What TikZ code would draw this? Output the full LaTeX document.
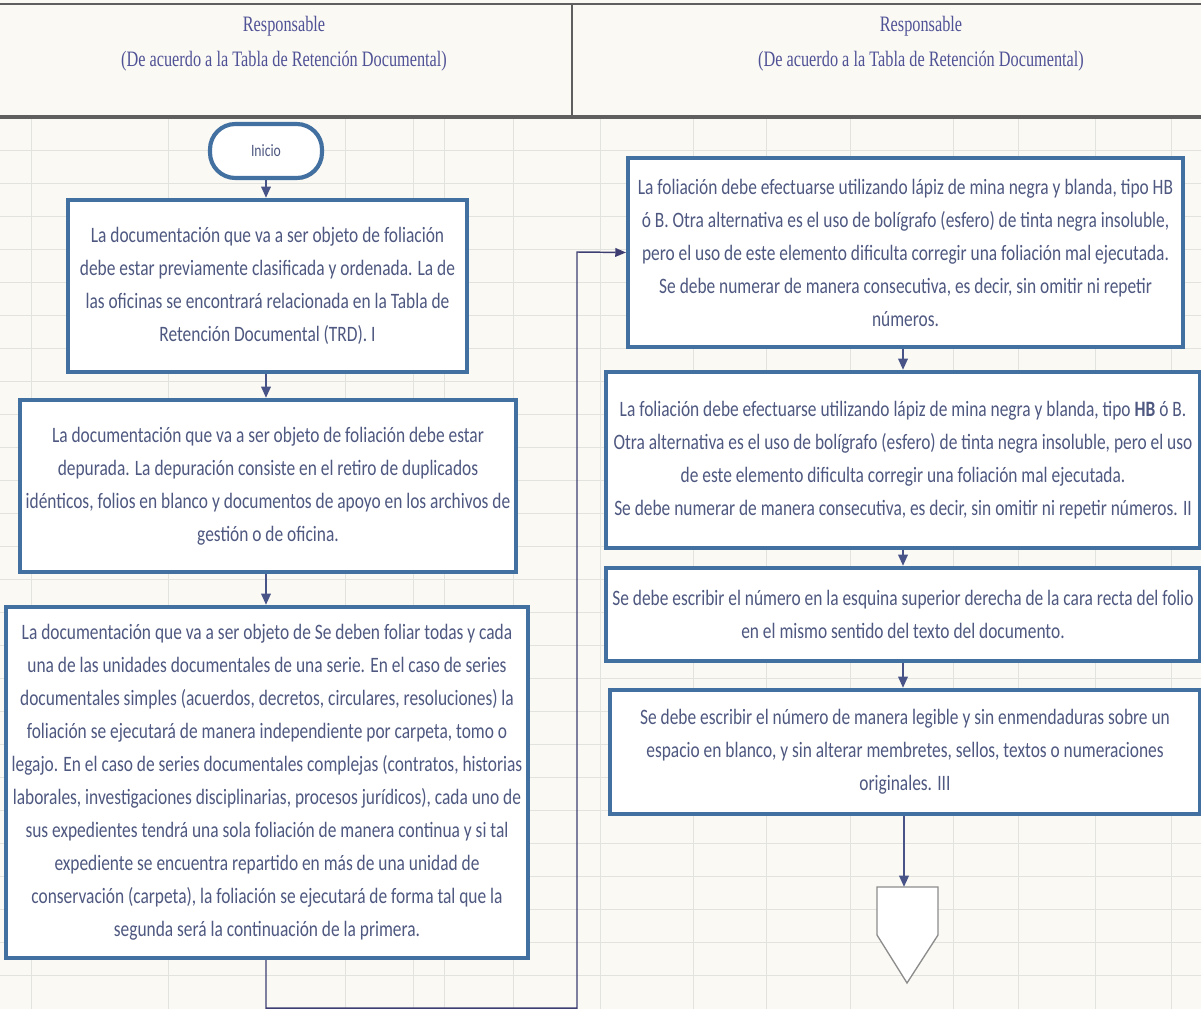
\documentclass[tikz,border=0pt]{standalone}
\usepackage{fontspec}
\setmainfont{Carlito}[FakeStretch=0.79]
\newfontfamily\hdrfont{Liberation Serif}[FakeStretch=0.74]
\usetikzlibrary{arrows.meta,shadows}
\definecolor{bgc}{RGB}{250,249,244}
\definecolor{gridc}{RGB}{226,226,222}
\definecolor{boxc}{RGB}{66,112,160}
\definecolor{txtc}{RGB}{78,88,128}
\definecolor{hdrc}{RGB}{80,82,150}
\definecolor{arrc}{RGB}{72,84,135}
\definecolor{loopc}{RGB}{62,62,115}
\definecolor{offc}{RGB}{140,140,140}
\definecolor{linec}{RGB}{95,95,95}
\begin{document}
\begin{tikzpicture}[x=0.75pt,y=-0.75pt,
  box/.style={draw=boxc, line width=3.1pt, fill=white, align=center, text=txtc,
    font=\fontsize{16.5}{24.75}\selectfont, inner sep=0pt,
    drop shadow={shadow xshift=0.8pt, shadow yshift=-1.4pt, fill=black!55, opacity=0.6}},
  term/.style={box, rounded corners=19pt, font=\fontsize{13}{14}\selectfont},
  hdr/.style={align=center, text=hdrc, font=\hdrfont\fontsize{16.5}{26}\selectfont, inner sep=0pt},
  flow/.style={draw=arrc, line width=1.8pt, -{Triangle[length=8.5pt,width=7pt]}},
  loopline/.style={draw=loopc, line width=1.1pt},
  gline/.style={draw=gridc, line width=0.5pt}]
% background
\fill[bgc] (0,0) rectangle (1201,1009);
\useasboundingbox (0,0) rectangle (1201,1009);
% faint grid
\foreach \gx in {31,168,345,413,444,513,600,693,766,850,953,1018,1095,1171}
  \draw[gline] (\gx,117) -- (\gx,1009);
\foreach \gy in {150,183,216,249,282,315,348,381,414,447,480,513,546,579,612,645,678,711,744,777,810,843,876,909,942,975}
  \draw[gline] (0,\gy) -- (1201,\gy);
% header
\draw[linec, line width=2.2pt] (0,4) -- (1201,4);
\draw[linec, line width=2.4pt] (0,117) -- (1201,117);
\draw[linec, line width=0.9pt] (572,4) -- (572,117);
\node[hdr] (h1) at (284,44) {Responsable\\(De acuerdo a la Tabla de Retención Documental)};
\node[hdr] (h2) at (921,44) {Responsable\\(De acuerdo a la Tabla de Retención Documental)};
% left column
\node[term, minimum width=84pt, minimum height=40.5pt] (ini) at (266,151) {Inicio};
\node[box, minimum width=299.25pt, minimum height=129pt] (b1) at (267.5,286)
 {La documentación que va a ser objeto de foliación\\
  debe estar previamente clasificada y ordenada. La de\\
  las oficinas se encontrará relacionada en la Tabla de\\
  Retención Documental (TRD). I};
\node[box, minimum width=372pt, minimum height=129pt] (b2) at (268,486)
 {La documentación que va a ser objeto de foliación debe estar\\
  depurada. La depuración consiste en el retiro de duplicados\\
  idénticos, folios en blanco y documentos de apoyo en los archivos de\\
  gestión o de oficina.};
\node[box, minimum width=391.5pt, minimum height=263.25pt] (b3) at (267,782.5)
 {La documentación que va a ser objeto de Se deben foliar todas y cada\\
  una de las unidades documentales de una serie. En el caso de series\\
  documentales simples (acuerdos, decretos, circulares, resoluciones) la\\
  foliación se ejecutará de manera independiente por carpeta, tomo o\\
  legajo. En el caso de series documentales complejas (contratos, historias\\
  laborales, investigaciones disciplinarias, procesos jurídicos), cada uno de\\
  sus expedientes tendrá una sola foliación de manera continua y si tal\\
  expediente se encuentra repartido en más de una unidad de\\
  conservación (carpeta), la foliación se ejecutará de forma tal que la\\
  segunda será la continuación de la primera.};
% right column
\node[box, minimum width=416.25pt, minimum height=141.75pt] (b4) at (905.5,252.5)
 {La foliación debe efectuarse utilizando lápiz de mina negra y blanda, tipo HB\\
  ó B. Otra alternativa es el uso de bolígrafo (esfero) de tinta negra insoluble,\\
  pero el uso de este elemento dificulta corregir una foliación mal ejecutada.\\
  Se debe numerar de manera consecutiva, es decir, sin omitir ni repetir\\
  números.};
\node[box, minimum width=445.5pt, minimum height=132pt] (b5) at (903,460)
 {La foliación debe efectuarse utilizando lápiz de mina negra y blanda, tipo \textbf{HB} ó B.\\
  Otra alternativa es el uso de bolígrafo (esfero) de tinta negra insoluble, pero el uso\\
  de este elemento dificulta corregir una foliación mal ejecutada.\\
  Se debe numerar de manera consecutiva, es decir, sin omitir ni repetir números. II};
\node[box, minimum width=445.5pt, minimum height=69.75pt] (b6) at (903,614.5)
 {Se debe escribir el número en la esquina superior derecha de la cara recta del folio\\
  en el mismo sentido del texto del documento.};
\node[box, minimum width=442.5pt, minimum height=93pt] (b7) at (905,752)
 {Se debe escribir el número de manera legible y sin enmendaduras sobre un\\
  espacio en blanco, y sin alterar membretes, sellos, textos o numeraciones\\
  originales. III};
% off-page connector
\draw[offc, fill=white, line width=1pt] (877,887) coordinate (op) -- (938,887) -- (938,935) -- (907,983) -- (877,935) -- cycle;
\coordinate (optop) at (904,887);
% connectors
\draw[flow] (ini.south) -- (ini.south |- b1.north);
\draw[flow] (b1.south -| ini.south) -- (ini.south |- b2.north);
\draw[flow] (b2.south -| ini.south) -- (ini.south |- b3.north);
\draw[flow] (b4.south -| b5.north) -- (b5.north);
\draw[flow] (b5.south) -- (b6.north);
\draw[flow] (b6.south) -- (b6.south |- b7.north);
\draw[flow] (b7.south -| optop) -- (optop);
\draw[loopline, -{Triangle[length=8pt,width=6.5pt]}] (b3.south -| ini.south) -- ++(0,48) -| (577,252) -- (b4.west);
\end{tikzpicture}
\end{document}
